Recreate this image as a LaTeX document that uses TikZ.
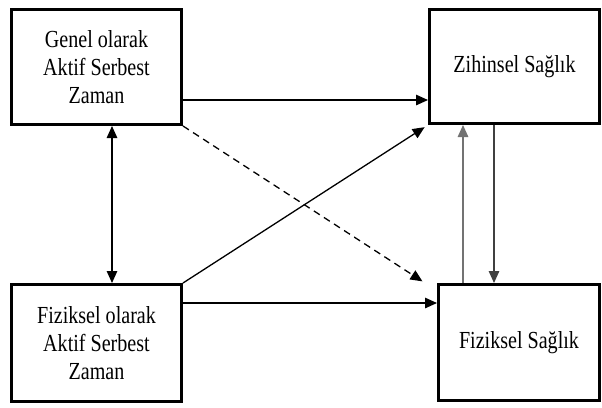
\documentclass[tikz,border=0pt]{standalone}
\usepackage{fontspec}
\newfontfamily\cf[FakeStretch=0.82]{Liberation Serif}
\usetikzlibrary{arrows.meta}
\begin{document}
\begin{tikzpicture}[x=1pt,y=-1pt,
  box/.style={draw, line width=3pt, inner sep=0pt, align=center,
    font=\cf\fontsize{24.5}{28}\selectfont},
  conn/.style={line width=1.3pt, -{Triangle[length=12pt,width=10.5pt]}},
  dconn/.style={line width=1.3pt, {Triangle[length=12pt,width=10.5pt]}-{Triangle[length=12pt,width=10.5pt]}}]
\useasboundingbox (0,0) rectangle (602,407);
\node[box, minimum width=170pt, minimum height=115pt] (g) at (96.5,67) {Genel olarak\\Aktif Serbest\\Zaman};
\node[box, minimum width=170pt, minimum height=114pt] (z) at (514.5,66.5) {Zihinsel Sağlık};
\node[box, minimum width=170pt, minimum height=117pt] (f) at (96.5,343) {Fiziksel olarak\\Aktif Serbest\\Zaman};
\node[box, minimum width=161pt, minimum height=116pt] (s) at (519,342.5) {Fiziksel Sağlık};
\draw[conn] (g.east |- 0,100) -- (z.west |- 0,100);
\draw[conn] (f.east |- 0,303) -- (s.west |- 0,303);
\draw[conn, shorten >=4pt] (f.north east) -- (z.south west);
\draw[conn, dash pattern=on 7pt off 5pt, shorten >=3pt] (g.south east) -- ([xshift=-12pt]s.north west);
\draw[dconn] (g.south -| 112,0) -- (f.north -| 112,0);
\draw[conn, draw=black!55] (s.north -| 463,0) -- (z.south -| 463,0);
\draw[conn, draw=black!75] (z.south -| 494,0) -- (s.north -| 494,0);
\end{tikzpicture}
\end{document}
